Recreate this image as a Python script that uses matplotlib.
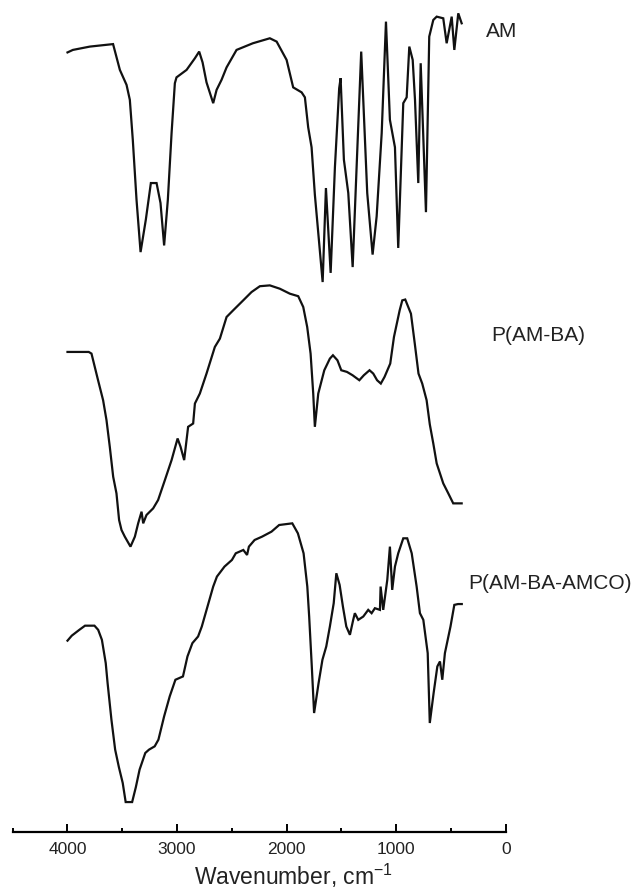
import matplotlib
matplotlib.use("Agg")
import matplotlib.pyplot as plt
from matplotlib.ticker import MultipleLocator

plt.rcParams.update({
    'font.family': ['Liberation Sans', 'DejaVu Sans'],
    'mathtext.fontset': 'custom',
    'mathtext.rm': 'Liberation Sans',
    'mathtext.default': 'regular',
})

# AM spectrum (wavenumber cm-1, offset transmittance)
am_wn = [4000, 3951, 3796, 3584, 3522, 3461, 3431, 3404, 3370, 3333, 3285, 3239,
         3187, 3151, 3118, 3084, 3050, 3020, 3005, 2913, 2837, 2798, 2767, 2731,
         2670, 2639, 2594, 2548, 2457, 2308, 2153, 2091, 2000, 1940, 1863, 1833,
         1803, 1772, 1742, 1671, 1641, 1598, 1559, 1520, 1507, 1477, 1437, 1397,
         1361, 1319, 1264, 1215, 1178, 1132, 1093, 1057, 1011, 981, 935, 904, 880,
         849, 828, 798, 776, 728, 698, 661, 630, 570, 539, 493, 469, 433, 402]
am_t = [93.7, 94.0, 94.4, 94.7, 91.6, 89.8, 88.0, 83.2, 76.0, 69.7, 73.6, 78.0,
        78.0, 75.6, 70.5, 76.0, 84.0, 90.0, 90.7, 91.6, 93.0, 93.8, 92.5, 90.1,
        87.6, 89.2, 90.4, 91.9, 94.0, 94.8, 95.4, 95.0, 92.8, 89.5, 88.9, 88.3,
        84.7, 82.3, 76.6, 66.1, 77.4, 67.2, 79.9, 89.4, 90.6, 80.8, 76.8, 67.9,
        79.9, 93.8, 76.8, 69.4, 74.0, 84.0, 97.4, 85.6, 82.3, 70.2, 87.6, 88.3, 94.4,
        92.8, 88.0, 78.0, 92.4, 74.5, 95.6, 97.6, 98.0, 97.8, 94.8, 98.0, 94.0, 98.4, 97.2]

# P(AM-BA) spectrum
ba_wn = [4000, 3806, 3781, 3766, 3721, 3675, 3644, 3614, 3583, 3553, 3529, 3507,
         3477, 3425, 3385, 3355, 3324, 3309, 3279, 3218, 3173, 3111, 3050, 2995,
         2968, 2935, 2899, 2853, 2837, 2792, 2731, 2655, 2609, 2548, 2488, 2396,
         2320, 2244, 2153, 2062, 1970, 1894, 1848, 1812, 1781, 1757, 1742, 1711,
         1656, 1605, 1577, 1536, 1501, 1449, 1398, 1336, 1295, 1243, 1209,
         1174, 1140, 1106, 1054, 1020, 968, 944, 917, 865, 830, 796, 762, 722, 693,
         661, 630, 570, 524, 479, 402]
ba_t = [57.7, 57.7, 57.5, 56.7, 54.3, 51.9, 49.5, 46.3, 42.7, 40.7, 37.5, 36.3,
        35.5, 34.3, 35.5, 37.1, 38.5, 37.1, 38.1, 38.9, 39.9, 42.3, 44.7, 47.3,
        46.3, 44.7, 48.7, 49.1, 51.5, 52.7, 55.1, 58.3, 59.3, 61.9, 62.7, 63.9,
        64.9, 65.6, 65.7, 65.3, 64.7, 64.4, 63.1, 60.7, 57.5, 52.7, 48.7, 52.7,
        55.5, 56.9, 57.3, 56.7, 55.5, 55.3, 54.9, 54.3, 54.9, 55.5, 55.1,
        54.3, 53.9, 54.7, 56.3, 59.5, 62.7, 63.9, 64.0, 62.3, 58.7, 55.1, 53.9, 51.9, 49.0,
        46.7, 44.3, 41.9, 40.7, 39.5, 39.5]

# P(AM-BA-AMCO) spectrum
co_wn = [4000, 3961, 3892, 3840, 3754, 3720, 3686, 3651, 3634, 3599, 3565, 3531,
         3496, 3469, 3410, 3376, 3342, 3290, 3256, 3204, 3170, 3118, 3067, 3015,
         2946, 2905, 2860, 2808, 2774, 2722, 2670, 2636, 2567, 2499, 2464, 2395,
         2361, 2344, 2292, 2224, 2138, 2068, 1948, 1897, 1845, 1811, 1794, 1770,
         1749, 1708, 1673, 1638, 1605, 1570, 1546, 1516, 1486, 1455, 1422, 1392,
         1377, 1346, 1300, 1255, 1224, 1194, 1148, 1142, 1118, 1081, 1057, 1036,
         1011, 981, 935, 899, 858, 813, 783, 752, 712, 693, 658, 624, 600, 579,
         555, 504, 469, 435, 401]
co_t = [23.0, 23.6, 24.3, 24.8, 24.8, 24.3, 23.1, 20.3, 17.9, 13.5, 9.9, 7.8,
        5.9, 3.6, 3.6, 5.4, 7.5, 9.5, 9.9, 10.3, 11.1, 13.9, 16.3, 18.3,
        18.7, 21.1, 22.7, 23.5, 24.7, 27.1, 29.5, 30.7, 31.9, 32.7, 33.5, 33.9,
        33.3, 34.3, 35.1, 35.5, 36.1, 36.9, 37.1, 35.9, 33.5, 29.5, 25.9, 19.9,
        14.3, 17.9, 20.7, 22.3, 24.7, 27.5, 31.1, 29.7, 27.1, 24.7, 23.7, 25.5,
        26.3, 25.5, 25.9, 26.7, 26.3, 26.9, 26.7, 29.5, 26.7, 30.3, 34.3, 29.1,
        31.9, 33.5, 35.3, 35.3, 33.5, 29.5, 26.3, 25.5, 21.5, 13.1, 16.7, 19.9, 20.5, 18.3,
        21.5, 24.7, 27.3, 27.4, 27.4]

labels = ['AM', 'P(AM-BA)', 'P(AM-BA-AMCO)']
label_pos = [(180, 96.2), (134, 59.7), (344, 29.9)]

fig = plt.figure(figsize=(6.33, 8.91), dpi=100)
ax = fig.add_axes([0.0201, 0.0662, 0.7788, 0.9338])

for wn, t in [(am_wn, am_t), (ba_wn, ba_t), (co_wn, co_t)]:
    ax.plot(wn, t, color='#111111', lw=1.6, solid_joinstyle='miter')

for lab, (x, y) in zip(labels, label_pos):
    ax.text(x, y, lab, fontsize=15, color='#222222', ha='left', va='center')

ax.set_xlim(4500, 0)
ax.set_ylim(0, 100)
for s in ['left', 'right', 'top']:
    ax.spines[s].set_visible(False)
ax.spines['bottom'].set_linewidth(1.6)
ax.set_yticks([])
ax.xaxis.set_major_locator(MultipleLocator(1000))
ax.xaxis.set_minor_locator(MultipleLocator(500))
ax.tick_params(axis='x', which='major', direction='in', length=6, width=1.4,
               pad=7.5, labelsize=12.5, labelcolor='#222222')
ax.tick_params(axis='x', which='minor', direction='in', length=3, width=1.4)

fig.text(293 / 633, 0.0067, r'Wavenumber, cm$^{-1}$', fontsize=16.5,
         color='#222222', ha='center', va='baseline')

fig.savefig('out.png', dpi=100)
